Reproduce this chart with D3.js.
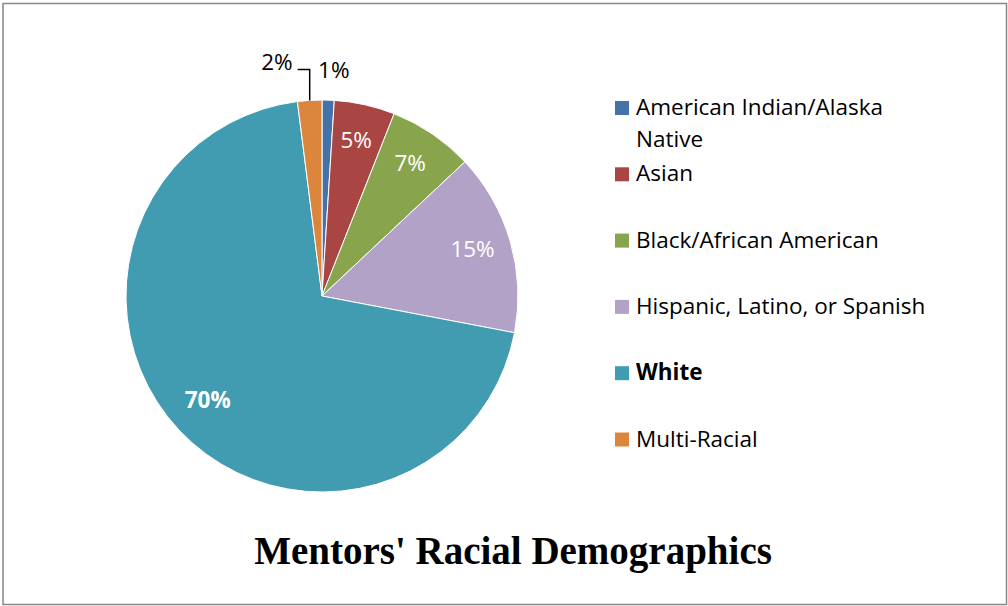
<!DOCTYPE html>
<html lang="en">
<head>
    <meta charset="UTF-8">
    <title>Mentors' Racial Demographics</title>
    <script src="https://d3js.org/d3.v7.min.js"></script>
    <style>
        body { margin: 0; background: #fff; }
        svg text { font-family: "Open Sans", "Liberation Sans", sans-serif; }
    </style>
</head>
<body>
    <div id="chart"></div>
    <script>
        // donnees
        var categories = ["American Indian/Alaska Native", "Asian", "Black/African American",
            "Hispanic, Latino, or Spanish", "White", "Multi-Racial"];
        var legendLines = [["American Indian/Alaska", "Native"], ["Asian"], ["Black/African American"],
            ["Hispanic, Latino, or Spanish"], ["White"], ["Multi-Racial"]];
        var values = [1, 5, 7, 15, 70, 2];
        var colors = ["#4572a8", "#a94644", "#88a54e", "#b3a2c8", "#419bb1", "#dc853d"];

        var W = 1008, H = 606;
        var cx = 322, cy = 296, rayon = 196;
        var fs = 22.5;

        var svg = d3.select("#chart").append("svg").attr("width", W).attr("height", H);

        // cadre gris
        svg.append("rect").attr("x", 3).attr("y", 3.5).attr("width", W - 4.5).attr("height", H - 5)
            .attr("fill", "white").attr("stroke", "#878787").attr("stroke-width", 1.5);

        var pie = d3.pie().sort(null).value(d => d);
        var arcs = pie(values);
        var arc = d3.arc().innerRadius(0).outerRadius(rayon);
        var arcLabel = d3.arc().innerRadius(rayon * 0.8).outerRadius(rayon * 0.8);
        var arcOut = d3.arc().innerRadius(rayon + 30).outerRadius(rayon + 30);
        var arcRim = d3.arc().innerRadius(rayon).outerRadius(rayon);

        var g = svg.append("g").attr("transform", "translate(" + cx + "," + cy + ")");

        g.selectAll("path.slice").data(arcs).enter().append("path")
            .attr("class", "slice")
            .attr("d", arc)
            .attr("fill", (d, i) => colors[i])
            .attr("stroke", "white").attr("stroke-width", 1);

        // etiquettes dans les parts
        arcs.forEach(function(d, i) {
            if (values[i] < 3) return;
            var c = arcLabel.centroid(d);
            g.append("text").attr("x", c[0]).attr("y", c[1] - 3).attr("dy", "0.35em")
                .attr("text-anchor", "middle").attr("fill", "white")
                .attr("font-size", fs).attr("font-weight", values[i] == 70 ? "bold" : "normal")
                .text(values[i] + "%");
        });

        // petites parts : etiquettes dehors
        var d1 = arcs[0];
        var p1 = arcOut.centroid(d1);
        g.append("text").attr("x", p1[0] - 11).attr("y", p1[1]).attr("dy", "0.35em")
            .attr("text-anchor", "start").attr("font-size", fs).attr("fill", "black")
            .text(values[0] + "%");

        var d6 = arcs[5];
        var rim = arcRim.centroid(d6);
        var coude = arcOut.centroid(d6);
        g.append("path")
            .attr("d", "M" + rim[0] + "," + rim[1] + " L" + rim[0] + "," + (coude[1] - 1) + " L" + (rim[0] - 12) + "," + (coude[1] - 1))
            .attr("fill", "none").attr("stroke", "black").attr("stroke-width", 1.5);
        g.append("text").attr("x", rim[0] - 17).attr("y", coude[1] - 8).attr("dy", "0.35em")
            .attr("text-anchor", "end").attr("font-size", fs).attr("fill", "black")
            .text(values[5] + "%");

        // legende
        var leg = svg.append("g");
        var baseY = 115, pas = 66.3;
        legendLines.forEach(function(lignes, i) {
            var y = baseY + i * pas;
            leg.append("rect").attr("x", 615).attr("y", y - 14).attr("width", 14).attr("height", 14)
                .attr("fill", colors[i]);
            lignes.forEach(function(t, j) {
                leg.append("text").attr("x", 636).attr("y", y + j * 32)
                    .attr("font-size", fs).attr("fill", "black")
                    .attr("font-weight", categories[i] == "White" ? "bold" : "normal")
                    .text(t);
            });
        });

        // titre
        svg.append("text").attr("x", 513).attr("y", 564).attr("text-anchor", "middle")
            .style("font-family", "'Liberation Serif', 'DejaVu Serif', serif")
            .attr("font-size", 39).attr("font-weight", "bold")
            .text("Mentors' Racial Demographics");
    </script>
</body>
</html>
